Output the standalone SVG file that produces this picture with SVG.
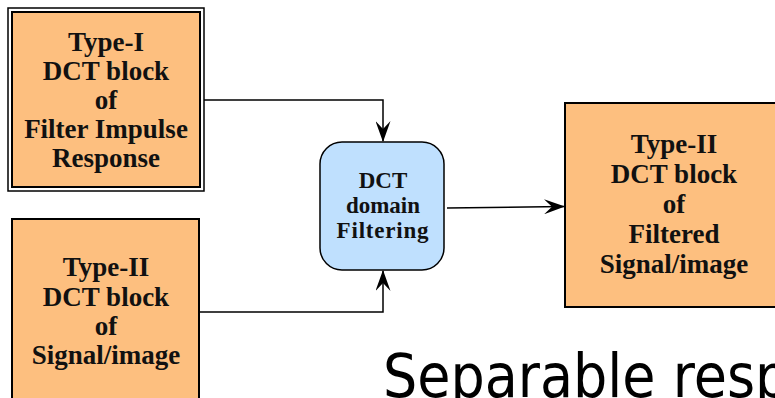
<svg xmlns="http://www.w3.org/2000/svg" width="775" height="398" viewBox="0 0 775 398">
<style>
.box{fill:#FDBF7F;stroke:#000;stroke-width:2}
.t{font-family:"Liberation Serif","Times New Roman",serif;font-weight:bold;font-size:27px;fill:#111;text-anchor:middle}
.tm{font-family:"Liberation Serif","Times New Roman",serif;font-weight:bold;font-size:23px;fill:#111;text-anchor:middle}
.c{fill:none;stroke:#000;stroke-width:1.5}
</style>
<defs>
<marker id="ah" viewBox="0 0 21 15" refX="20" refY="7.5" markerWidth="21" markerHeight="15" markerUnits="userSpaceOnUse" orient="auto">
<path d="M0,0 L21,7.5 L0,15 L8,7.5 z" fill="#000"/>
</marker>
</defs>
<rect width="775" height="398" fill="#fff"/>
<g id="n1">
<rect x="8" y="8" width="196" height="183" fill="none" stroke="#000" stroke-width="1.5"/>
<rect class="box" x="12" y="12" width="188" height="175"/>
<text class="t" x="106" y="51">Type-I</text>
<text class="t" x="106" y="80">DCT block</text>
<text class="t" x="106" y="109">of</text>
<text class="t" x="106" y="138">Filter Impulse</text>
<text class="t" x="106" y="167">Response</text>
</g>
<g id="n2">
<rect class="box" x="12" y="219" width="187" height="190"/>
<text class="t" x="106" y="276">Type-II</text>
<text class="t" x="106" y="306">DCT block</text>
<text class="t" x="106" y="335">of</text>
<text class="t" x="106" y="364">Signal/image</text>
</g>
<g id="n3">
<rect x="320" y="142" width="124" height="128" rx="22" ry="22" fill="#BFE0FE" stroke="#000" stroke-width="1.5"/>
<text class="tm" x="383" y="188">DCT</text>
<text class="tm" x="383" y="213">domain</text>
<text class="tm" x="383" y="238" letter-spacing="0.8">Filtering</text>
</g>
<g id="n4">
<rect class="box" x="565" y="103" width="230" height="204"/>
<text class="t" x="674" y="153">Type-II</text>
<text class="t" x="674" y="183">DCT block</text>
<text class="t" x="674" y="213">of</text>
<text class="t" x="674" y="243">Filtered</text>
<text class="t" x="674" y="273">Signal/image</text>
</g>
<g id="connectors">
<path class="c" d="M204,100 H383 V141" marker-end="url(#ah)"/>
<path class="c" d="M199,312 H383 V271" marker-end="url(#ah)"/>
<path class="c" d="M447,208 L564,206.5" marker-end="url(#ah)"/>
</g>
<text transform="translate(383,397) scale(0.9,1)" font-family="'DejaVu Sans',Verdana,sans-serif" font-size="60" fill="#000">Separable resp</text>
</svg>
